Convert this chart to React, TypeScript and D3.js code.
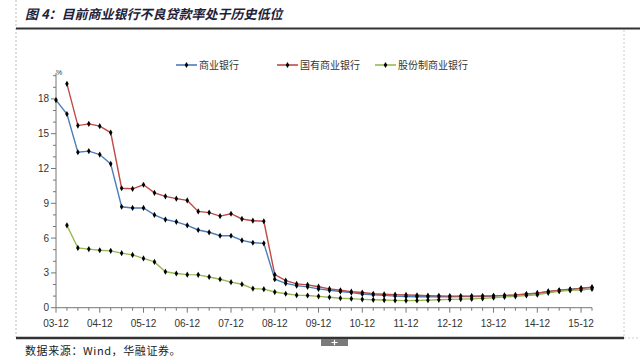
import React from "react";
import * as d3 from "d3";

const quarters: string[] = [
  "03-12","04-03","04-06","04-09","04-12","05-03","05-06","05-09","05-12","06-03",
  "06-06","06-09","06-12","07-03","07-06","07-09","07-12","08-03","08-06","08-09",
  "08-12","09-03","09-06","09-09","09-12","10-03","10-06","10-09","10-12","11-03",
  "11-06","11-09","11-12","12-03","12-06","12-09","12-12","13-03","13-06","13-09",
  "13-12","14-03","14-06","14-09","14-12","15-03","15-06","15-09","15-12","16-03",
];

const tickLabels: string[] = ["03-12","04-12","05-12","06-12","07-12","08-12","09-12","10-12","11-12","12-12","13-12","14-12","15-12"];

const seriesNames: string[] = ["商业银行", "国有商业银行", "股份制商业银行"];

const commercial: (number | null)[] = [
  17.9, 16.7, 13.4, 13.5, 13.2, 12.4, 8.7, 8.6, 8.6, 8.0,
  7.6, 7.4, 7.1, 6.7, 6.5, 6.2, 6.2, 5.8, 5.6, 5.55,
  2.45, 2.1, 1.9, 1.8, 1.62, 1.5, 1.4, 1.3, 1.18, 1.12,
  1.06, 1.0, 0.97, 0.95, 0.94, 0.94, 0.95, 0.96, 0.96, 0.97,
  1.0, 1.04, 1.08, 1.16, 1.25, 1.39, 1.5, 1.59, 1.67, 1.75,
];

const stateOwned: (number | null)[] = [
  null, 19.3, 15.7, 15.85, 15.65, 15.1, 10.3, 10.25, 10.6, 9.9,
  9.6, 9.4, 9.25, 8.3, 8.2, 7.9, 8.1, 7.65, 7.5, 7.45,
  2.85, 2.33, 2.05, 1.97, 1.81, 1.62, 1.5, 1.38, 1.31, 1.2,
  1.16, 1.12, 1.1, 1.07, 1.04, 1.02, 1.0, 1.0, 1.0, 1.01,
  1.02, 1.06, 1.09, 1.18, 1.25, 1.4, 1.48, 1.56, 1.68, 1.76,
];

const jointStock: (number | null)[] = [
  null, 7.1, 5.15, 5.05, 4.95, 4.9, 4.7, 4.55, 4.25, 3.95,
  3.1, 2.95, 2.85, 2.83, 2.65, 2.45, 2.2, 2.02, 1.65, 1.6,
  1.35, 1.2, 1.08, 1.05, 0.98, 0.9, 0.82, 0.78, 0.72, 0.68,
  0.66, 0.63, 0.61, 0.62, 0.65, 0.68, 0.72, 0.74, 0.76, 0.8,
  0.86, 0.93, 0.98, 1.05, 1.12, 1.28, 1.42, 1.49, 1.53, 1.62,
];

const seriesColors = ["#4a7ebb", "#be4b48", "#98b954"];
const allSeries = [commercial, stateOwned, jointStock];

const yMajor = [0, 3, 6, 9, 12, 15, 18];

export default function App() {
  const W = 640, H = 363;
  const x = d3.scaleLinear().domain([0, quarters.length - 1]).range([56, 592]);
  const y = d3.scaleLinear().domain([0, 18]).range([307.7, 98.9]);
  const yTop = 73;
  const axisColor = "#777";
  const numFont = "'Liberation Sans', Arial, sans-serif";
  const cjkFont = "'Noto Sans CJK SC', sans-serif";

  const line = d3
    .line<number | null>()
    .defined((d) => d !== null)
    .x((_, i) => x(i))
    .y((d) => y(d as number));

  const marker = d3.symbol().type(d3.symbolDiamond).size(11)() as string;

  const minorY = d3.range(1, 21).filter((v) => v % 3 !== 0);
  const legendX = [176, 277, 375];

  return (
    <svg
      width={W}
      height={H}
      style={{ position: "absolute", left: 0, top: 0, background: "#fff" }}
    >
      {/* frame */}
      <line x1={16} y1={0} x2={16} y2={337} stroke="#bbb" strokeDasharray="2,2" />
      <line x1={624} y1={30} x2={624} y2={337} stroke="#ccc" strokeDasharray="2,2" />
      <line x1={624} y1={338} x2={640} y2={338} stroke="#ccc" strokeDasharray="2,2" />
      <text
        x={25}
        y={19}
        fontFamily={cjkFont}
        fontSize={13}
        fontWeight="bold"
        fontStyle="italic"
        fill="#1e1e3a"
      >
        图 4：目前商业银行不良贷款率处于历史低位
      </text>
      <line x1={16} y1={28.5} x2={640} y2={28.5} stroke="#333" strokeWidth={2} />
      <line x1={16} y1={338} x2={624} y2={338} stroke="#333" strokeWidth={2.5} />
      <rect x={321} y={339} width={27} height={7} fill="#7a7a7a" />
      <path d="M331.5,342.5 h6 M334.5,339.8 v5.4" stroke="#fff" strokeWidth={1.2} />
      <text x={25} y={355} fontFamily={cjkFont} fontSize={11} letterSpacing={0.6} fill="#222">
        数据来源：Wind，华融证券。
      </text>

      {/* legend */}
      {seriesNames.map((name, i) => (
        <g key={name}>
          <line x1={legendX[i]} y1={65} x2={legendX[i] + 21} y2={65} stroke={seriesColors[i]} strokeWidth={1.6} />
          <path d={marker} transform={`translate(${legendX[i] + 10.5},65)`} fill="#000" />
          <text x={legendX[i] + 23} y={69} fontFamily={cjkFont} fontSize={10} fill="#333">
            {name}
          </text>
        </g>
      ))}

      {/* y axis */}
      <line x1={56} y1={yTop} x2={56} y2={y(0)} stroke={axisColor} strokeWidth={1} />
      {yMajor.map((v) => (
        <g key={"ym" + v}>
          <line x1={51} x2={56} y1={y(v)} y2={y(v)} stroke={axisColor} />
          <text x={49} y={y(v) + 3.5} textAnchor="end" fontFamily={numFont} fontSize={10} fill="#333">
            {v}
          </text>
        </g>
      ))}
      {minorY.map((v) => (
        <line key={"yn" + v} x1={53} x2={56} y1={y(v)} y2={y(v)} stroke={axisColor} />
      ))}
      <text x={56} y={75} fontFamily={numFont} fontSize={7} fill="#333">%</text>

      {/* x axis */}
      <line x1={56} y1={y(0)} x2={592} y2={y(0)} stroke={axisColor} strokeWidth={1} />
      {quarters.map((q, i) => (
        <line
          key={"xt" + q}
          x1={x(i)}
          x2={x(i)}
          y1={y(0)}
          y2={y(0) + (i % 4 === 0 ? 5 : 3)}
          stroke={axisColor}
        />
      ))}
      {tickLabels.map((t) => {
        const i = quarters.indexOf(t);
        return (
          <text key={"xl" + t} x={x(i)} y={327} textAnchor="middle" fontFamily={numFont} fontSize={10} fill="#333">
            {t}
          </text>
        );
      })}

      {/* series */}
      {allSeries.map((s, k) => (
        <g key={"s" + k}>
          <path d={line(s) as string} fill="none" stroke={seriesColors[k]} strokeWidth={1.4} />
          {s.map((v, i) =>
            v === null ? null : (
              <path key={i} d={marker} transform={`translate(${x(i)},${y(v)})`} fill="#000" />
            )
          )}
        </g>
      ))}
    </svg>
  );
}
